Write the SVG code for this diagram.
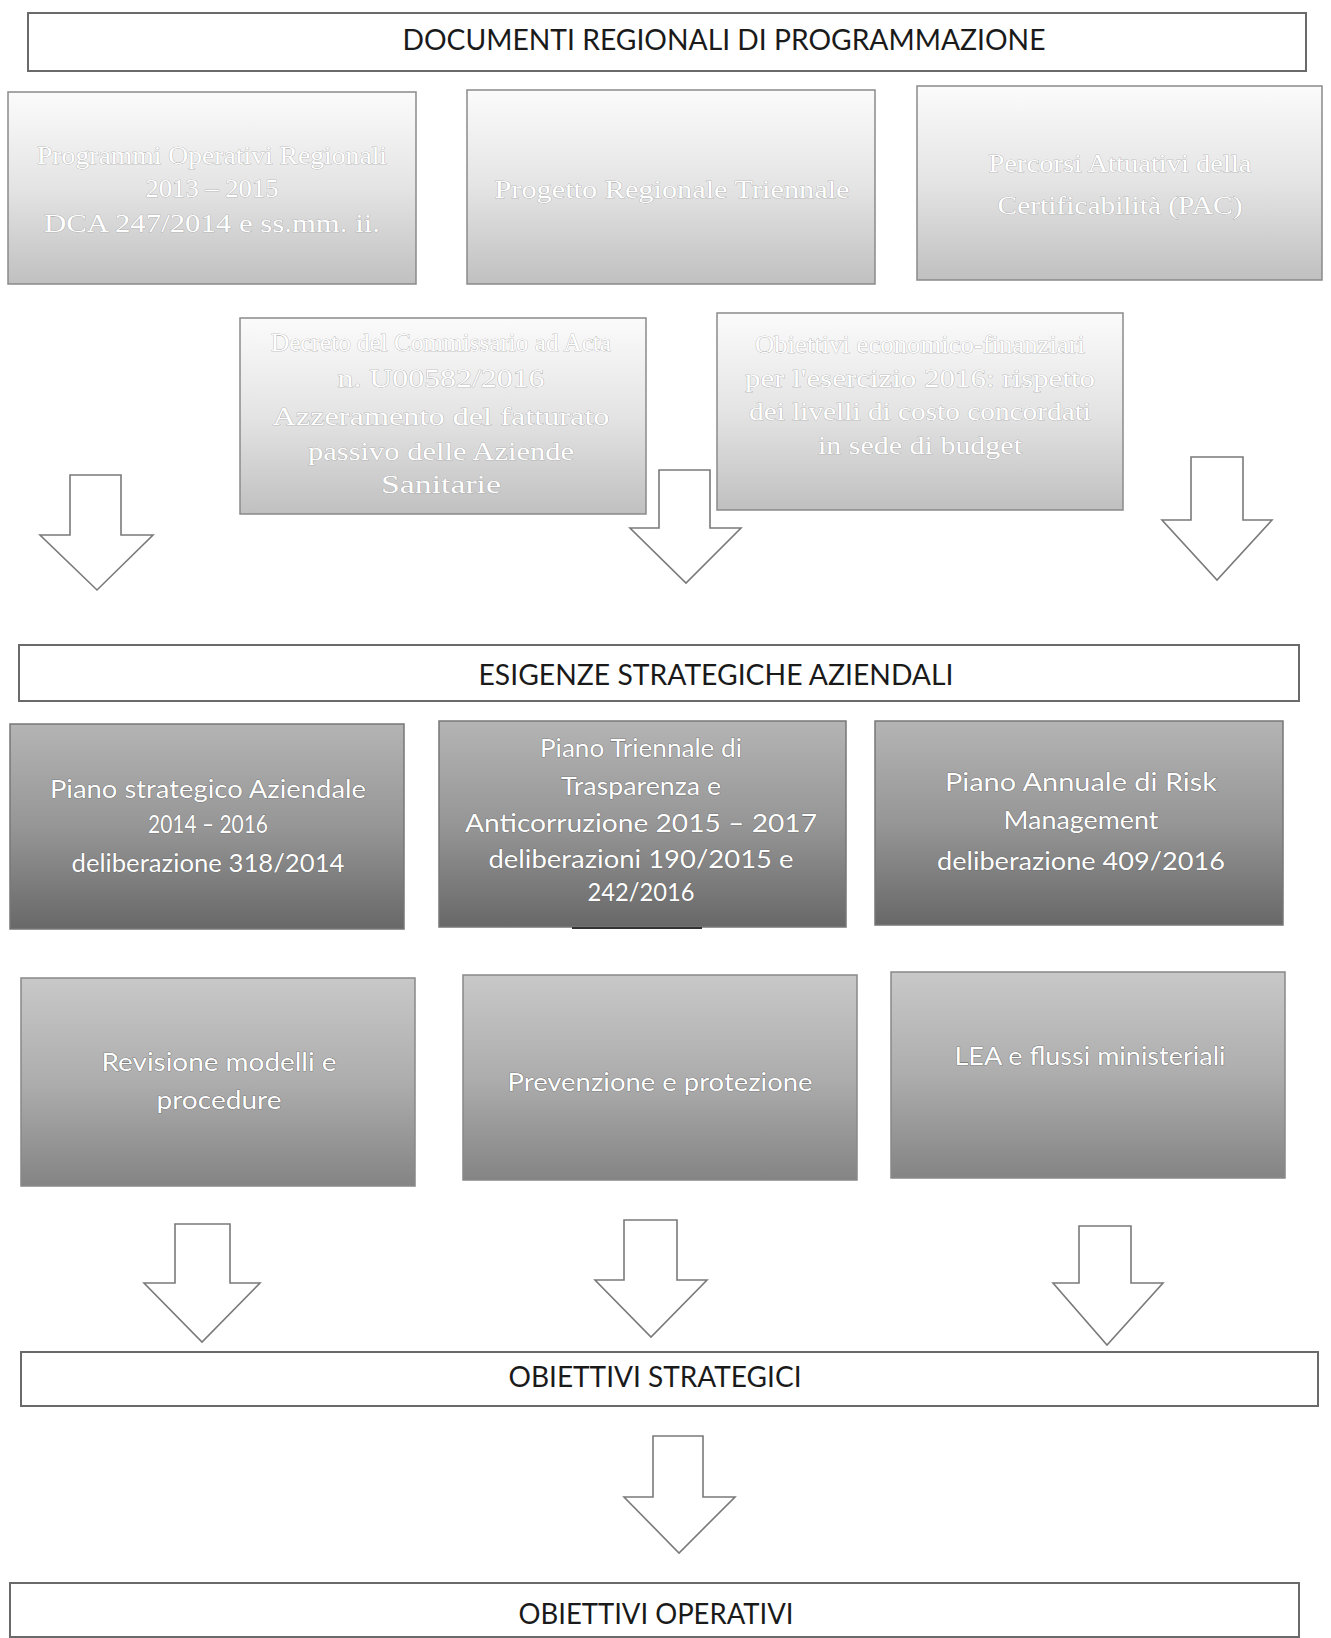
<svg xmlns="http://www.w3.org/2000/svg" width="1331" height="1638" viewBox="0 0 1331 1638">
<defs>
<linearGradient id="gTop" x1="0" y1="0" x2="0" y2="1">
<stop offset="0" stop-color="#fbfbfb"/><stop offset="0.5" stop-color="#e4e4e4"/><stop offset="1" stop-color="#c0c0c0"/>
</linearGradient>
<linearGradient id="gMid" x1="0" y1="0" x2="0" y2="1">
<stop offset="0" stop-color="#b4b4b4"/><stop offset="0.5" stop-color="#969696"/><stop offset="1" stop-color="#686868"/>
</linearGradient>
<linearGradient id="gLow" x1="0" y1="0" x2="0" y2="1">
<stop offset="0" stop-color="#c8c8c8"/><stop offset="0.5" stop-color="#adadad"/><stop offset="1" stop-color="#848484"/>
</linearGradient>
</defs>
<style>
.banner{fill:#fff;stroke:#6a6a6a;stroke-width:2}
.bt{font-family:Lato,"Open Sans","Liberation Sans",sans-serif;font-size:28px;fill:#1a1a1a;text-anchor:middle}
.top{fill:url(#gTop);stroke:#8a8a8a;stroke-width:1.5}
.mid{fill:url(#gMid);stroke:#777;stroke-width:1.5}
.low{fill:url(#gLow);stroke:#888;stroke-width:1.5}
.ts{font-family:"Liberation Serif","Times New Roman",serif;font-size:26px;fill:#fff;stroke:#9a9a9a;stroke-width:0.6;paint-order:stroke;text-anchor:middle}
.tm{font-family:Lato,"Open Sans","Liberation Sans",sans-serif;font-size:25px;fill:#fff;stroke:#5a5a5a;stroke-width:0.7;paint-order:stroke;text-anchor:middle}
.arrow{fill:#fff;stroke:#7a7a7a;stroke-width:1.6;stroke-linejoin:miter}
</style>
<rect width="1331" height="1638" fill="#fff"/>

<g id="documenti-regionali">
<rect class="banner" x="28" y="13" width="1278" height="58"/>
<text class="bt" x="724" y="50" textLength="643" lengthAdjust="spacingAndGlyphs">DOCUMENTI REGIONALI DI PROGRAMMAZIONE</text>
</g>

<g id="programmi-operativi">
<rect class="top" x="8" y="92" width="408" height="192"/>
<text class="ts" x="212" y="164" textLength="350" lengthAdjust="spacingAndGlyphs">Programmi Operativi Regionali</text>
<text class="ts" x="212" y="197" textLength="133" lengthAdjust="spacingAndGlyphs">2013 – 2015</text>
<text class="ts" x="212" y="232" textLength="336" lengthAdjust="spacingAndGlyphs">DCA 247/2014 e ss.mm. ii.</text>
</g>

<g id="progetto-regionale">
<rect class="top" x="467" y="90" width="408" height="194"/>
<text class="ts" x="672" y="198" textLength="355" lengthAdjust="spacingAndGlyphs">Progetto Regionale Triennale</text>
</g>

<g id="pac">
<rect class="top" x="917" y="86" width="405" height="194"/>
<text class="ts" x="1120" y="172" textLength="263" lengthAdjust="spacingAndGlyphs">Percorsi Attuativi della</text>
<text class="ts" x="1120" y="214" textLength="245" lengthAdjust="spacingAndGlyphs">Certificabilità (PAC)</text>
</g>

<g id="azzeramento-fatturato">
<rect class="top" x="240" y="318" width="406" height="196"/>
<text class="ts" x="441" y="351" textLength="340" lengthAdjust="spacingAndGlyphs">Decreto del Commissario ad Acta</text>
<text class="ts" x="441" y="387" textLength="207" lengthAdjust="spacingAndGlyphs">n. U00582/2016</text>
<text class="ts" x="441" y="425" textLength="337" lengthAdjust="spacingAndGlyphs">Azzeramento del fatturato</text>
<text class="ts" x="441" y="460" textLength="266" lengthAdjust="spacingAndGlyphs">passivo delle Aziende</text>
<text class="ts" x="441" y="493" textLength="120" lengthAdjust="spacingAndGlyphs">Sanitarie</text>
</g>

<g id="livelli-costo">
<rect class="top" x="717" y="313" width="406" height="197"/>
<text class="ts" x="920" y="353" textLength="330" lengthAdjust="spacingAndGlyphs">Obiettivi economico-finanziari</text>
<text class="ts" x="920" y="387" textLength="350" lengthAdjust="spacingAndGlyphs">per l'esercizio 2016: rispetto</text>
<text class="ts" x="920" y="420" textLength="342" lengthAdjust="spacingAndGlyphs">dei livelli di costo concordati</text>
<text class="ts" x="920" y="454" textLength="204" lengthAdjust="spacingAndGlyphs">in sede di budget</text>
</g>

<g id="esigenze-strategiche">
<rect class="banner" x="19" y="645" width="1280" height="56"/>
<text class="bt" x="716" y="685" textLength="475" lengthAdjust="spacingAndGlyphs">ESIGENZE STRATEGICHE AZIENDALI</text>
</g>

<g id="piano-strategico">
<rect class="mid" x="10" y="724" width="394" height="205"/>
<text class="tm" x="208" y="798" textLength="316" lengthAdjust="spacingAndGlyphs">Piano strategico Aziendale</text>
<text class="tm" x="208" y="833" textLength="120" lengthAdjust="spacingAndGlyphs">2014 – 2016</text>
<text class="tm" x="208" y="872" textLength="273" lengthAdjust="spacingAndGlyphs">deliberazione 318/2014</text>
</g>

<g id="piano-trasparenza">
<rect class="mid" x="439" y="721" width="407" height="206"/>
<text class="tm" x="641" y="757" textLength="202" lengthAdjust="spacingAndGlyphs">Piano Triennale di</text>
<text class="tm" x="641" y="795" textLength="160" lengthAdjust="spacingAndGlyphs">Trasparenza e</text>
<text class="tm" x="641" y="832" textLength="352" lengthAdjust="spacingAndGlyphs">Anticorruzione 2015 – 2017</text>
<text class="tm" x="641" y="868" textLength="305" lengthAdjust="spacingAndGlyphs">deliberazioni 190/2015 e</text>
<text class="tm" x="641" y="901" textLength="107" lengthAdjust="spacingAndGlyphs">242/2016</text>
<line x1="572" y1="928" x2="702" y2="928" stroke="#333" stroke-width="2"/>
</g>

<g id="risk-management">
<rect class="mid" x="875" y="721" width="408" height="204"/>
<text class="tm" x="1081" y="791" textLength="272" lengthAdjust="spacingAndGlyphs">Piano Annuale di Risk</text>
<text class="tm" x="1081" y="829" textLength="155" lengthAdjust="spacingAndGlyphs">Management</text>
<text class="tm" x="1081" y="870" textLength="288" lengthAdjust="spacingAndGlyphs">deliberazione 409/2016</text>
</g>

<g id="revisione-modelli">
<rect class="low" x="21" y="978" width="394" height="208"/>
<text class="tm" x="219" y="1071" textLength="235" lengthAdjust="spacingAndGlyphs">Revisione modelli e</text>
<text class="tm" x="219" y="1109" textLength="125" lengthAdjust="spacingAndGlyphs">procedure</text>
</g>

<g id="prevenzione-protezione">
<rect class="low" x="463" y="975" width="394" height="205"/>
<text class="tm" x="660" y="1091" textLength="305" lengthAdjust="spacingAndGlyphs">Prevenzione e protezione</text>
</g>

<g id="lea-flussi">
<rect class="low" x="891" y="972" width="394" height="206"/>
<text class="tm" x="1090" y="1065" textLength="271" lengthAdjust="spacingAndGlyphs">LEA e flussi ministeriali</text>
</g>

<g id="obiettivi-strategici">
<rect class="banner" x="21" y="1352" width="1297" height="54"/>
<text class="bt" x="655" y="1387" textLength="293" lengthAdjust="spacingAndGlyphs">OBIETTIVI STRATEGICI</text>
</g>

<g id="obiettivi-operativi">
<rect class="banner" x="10" y="1583" width="1289" height="54"/>
<text class="bt" x="656" y="1624" textLength="275" lengthAdjust="spacingAndGlyphs">OBIETTIVI OPERATIVI</text>
</g>

<g id="connectors">
<path class="arrow" d="M70,475 H121 V535 H153 L97,590 L40,535 H70 Z"/>
<path class="arrow" d="M659,470 H710 V528 H741 L686,583 L630,528 H659 Z"/>
<path class="arrow" d="M1191,457 H1243 V520 H1272 L1217,580 L1162,520 H1191 Z"/>
<path class="arrow" d="M175,1224 H230 V1283 H260 L202,1342 L144,1283 H175 Z"/>
<path class="arrow" d="M624,1220 H677 V1280 H707 L651,1337 L595,1280 H624 Z"/>
<path class="arrow" d="M1079,1226 H1131 V1283 H1163 L1107,1345 L1053,1283 H1079 Z"/>
<path class="arrow" d="M653,1436 H703 V1497 H735 L679,1553 L624,1497 H653 Z"/>
</g>
</svg>
